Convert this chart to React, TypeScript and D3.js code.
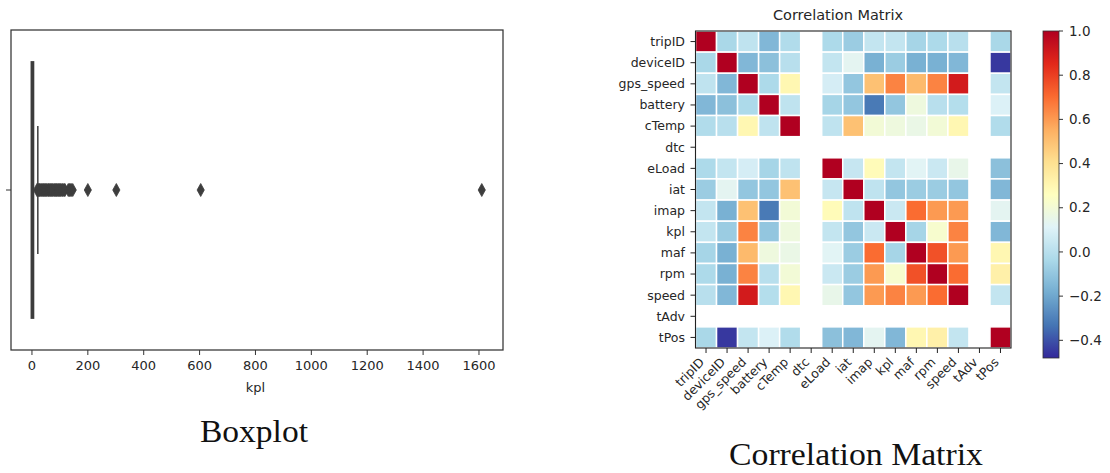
import React from 'react';
import * as d3 from 'd3';

// boxplot of kpl
const kplTicks = [0, 200, 400, 600, 800, 1000, 1200, 1400, 1600];
const kplBox = { q1: 0, median: 3, q3: 7, low: 0, high: 21 };
const kplFliers = [18, 22, 25, 27, 31, 34, 38, 41, 44, 47, 50, 53, 57, 60, 62, 66, 69, 72, 75, 79, 82, 85, 88, 91, 95, 98, 101, 104, 108, 111, 115, 118, 130, 134, 137, 141, 146, 200, 302, 604, 1610];

// correlation matrix
const vars = ['tripID', 'deviceID', 'gps_speed', 'battery', 'cTemp', 'dtc', 'eLoad', 'iat', 'imap', 'kpl', 'maf', 'rpm', 'speed', 'tAdv', 'tPos'];
const N = null;
const corrValues: (number | null)[][] = [
  [1, -0.04, 0.02, -0.15, -0.02, N, -0.03, -0.08, 0.03, 0.03, -0.05, -0.03, 0.0, N, -0.04],
  [-0.04, 1, -0.15, -0.12, 0.0, N, 0.03, 0.13, -0.17, -0.08, -0.17, -0.17, -0.15, N, -0.45],
  [0.02, -0.15, 1, -0.03, 0.3, N, 0.08, -0.1, 0.5, 0.65, 0.52, 0.65, 0.9, N, 0.03],
  [-0.15, -0.12, -0.03, 1, 0.02, N, -0.05, -0.1, -0.32, -0.1, 0.18, 0.0, -0.01, N, 0.1],
  [-0.02, 0.0, 0.3, 0.02, 1, N, 0.02, 0.5, 0.2, 0.18, 0.16, 0.2, 0.3, N, -0.02],
  [N, N, N, N, N, N, N, N, N, N, N, N, N, N, N],
  [-0.03, 0.03, 0.08, -0.05, 0.02, N, 1, 0.04, 0.28, 0.03, 0.12, 0.05, 0.15, N, -0.12],
  [-0.08, 0.13, -0.1, -0.1, 0.5, N, 0.04, 1, 0.02, -0.1, -0.08, -0.08, -0.1, N, -0.15],
  [0.03, -0.17, 0.5, -0.32, 0.2, N, 0.28, 0.02, 1, 0.05, 0.7, 0.6, 0.6, N, 0.13],
  [0.03, -0.08, 0.65, -0.1, 0.18, N, 0.03, -0.1, 0.05, 1, -0.05, 0.22, 0.65, N, -0.15],
  [-0.05, -0.17, 0.52, 0.18, 0.16, N, 0.12, -0.08, 0.7, -0.05, 1, 0.76, 0.6, N, 0.3],
  [-0.03, -0.17, 0.65, 0.0, 0.2, N, 0.05, -0.08, 0.6, 0.22, 0.76, 1, 0.7, N, 0.33],
  [0.0, -0.15, 0.9, -0.01, 0.3, N, 0.15, -0.1, 0.6, 0.65, 0.6, 0.7, 1, N, 0.03],
  [N, N, N, N, N, N, N, N, N, N, N, N, N, N, N],
  [-0.04, -0.45, 0.03, 0.1, -0.02, N, -0.12, -0.15, 0.13, -0.15, 0.3, 0.33, 0.03, N, 1],
];
const cbarTicks = [-0.4, -0.2, 0.0, 0.2, 0.4, 0.6, 0.8, 1.0];
const rdylbu = ['#33289a', '#4575b4', '#74add1', '#abd9e9', '#e0f3f8', '#ffffbf', '#fee090', '#fdae61', '#fa6a30', '#e2281a', '#b00020'];

const vmin = -0.48, vmax = 1.0;
const sans = 'DejaVu Sans';
const txt = '#262626';

export default function App() {
  // boxplot scales
  const bx = d3.scaleLinear().domain([-75, 1686]).range([11, 503]);
  const by = d3.scaleLinear().domain([-0.5, 0.5]).range([30, 350]);
  const fmt = d3.format('.1f');

  // heatmap scales
  const hx = d3.scaleBand<string>().domain(vars).range([695.5, 1011]);
  const hy = d3.scaleBand<string>().domain(vars).range([31, 348]);
  const color = d3.scaleLinear<string>()
    .domain(rdylbu.map((_, i) => vmin + (i / 10) * (vmax - vmin)))
    .range(rdylbu)
    .interpolate(d3.interpolateRgb);
  const cy = d3.scaleLinear().domain([vmin, vmax]).range([358, 31]);
  const stops = d3.range(0, 1.0001, 0.02);

  const diamond = (x: number, y: number) => `M${x},${y - 6.5}L${x + 3.6},${y}L${x},${y + 6.5}L${x - 3.6},${y}Z`;

  return (
    <svg width={1110} height={473} style={{ position: 'absolute', left: 0, top: 0, background: '#fff' }}>
      <defs>
        <linearGradient id="cbar" x1="0" y1="1" x2="0" y2="0">
          {stops.map((t) => (
            <stop key={t} offset={t} stopColor={color(vmin + t * (vmax - vmin))} />
          ))}
        </linearGradient>
      </defs>

      {/* ---------- boxplot ---------- */}
      <g>
        <rect x={bx(kplBox.q1) - 0.5} y={by(-0.4)} width={bx(kplBox.q3) - bx(kplBox.q1)} height={by(0.4) - by(-0.4)}
          fill="#3d3d3d" stroke="#3d3d3d" strokeWidth={1.8} />
        <line x1={bx(kplBox.q3)} x2={bx(kplBox.high)} y1={by(0)} y2={by(0)} stroke="#3d3d3d" strokeWidth={1.5} />
        <line x1={bx(kplBox.high)} x2={bx(kplBox.high)} y1={by(-0.2)} y2={by(0.2)} stroke="#3d3d3d" strokeWidth={1.5} />
        <line x1={bx(kplBox.low)} x2={bx(kplBox.low)} y1={by(-0.2)} y2={by(0.2)} stroke="#3d3d3d" strokeWidth={1.5} />
        <line x1={bx(kplBox.median)} x2={bx(kplBox.median)} y1={by(-0.4)} y2={by(0.4)} stroke="#3d3d3d" strokeWidth={1.5} />
        {kplFliers.map((v, i) => (
          <path key={i} d={diamond(bx(v), by(0))} fill="#3d3d3d" stroke="#3d3d3d" strokeWidth={0.8} />
        ))}
        <rect x={11} y={30} width={492} height={320} fill="none" stroke="#333" strokeWidth={1.25} />
        <line x1={6} x2={11} y1={by(0)} y2={by(0)} stroke="#333" strokeWidth={1} />
        {kplTicks.map((t) => (
          <g key={t} transform={`translate(${bx(t)},350)`}>
            <line y1={0} y2={5} stroke="#333" strokeWidth={1} />
            <text y={20} textAnchor="middle" fontFamily={sans} fontSize={13} fill={txt}>{t}</text>
          </g>
        ))}
        <text x={bx(800)} y={392} textAnchor="middle" fontFamily={sans} fontSize={13} fill={txt}>kpl</text>
      </g>

      {/* ---------- correlation heatmap ---------- */}
      <g>
        <text x={838} y={20} textAnchor="middle" fontFamily={sans} fontSize={14.5} fill={txt}>Correlation Matrix</text>
        {corrValues.map((row, i) =>
          row.map((v, j) =>
            v === null ? null : (
              <rect key={`${i}-${j}`} x={hx(vars[j])!} y={hy(vars[i])!} width={hx.bandwidth()} height={hy.bandwidth()}
                fill={color(v)} stroke="#fff" strokeWidth={1.5} />
            )
          )
        )}
        <rect x={695.5} y={31} width={1011 - 695.5} height={348 - 31} fill="none" stroke="#222" strokeWidth={1.1} />
        {vars.map((v) => {
          const cyv = hy(v)! + hy.bandwidth() / 2;
          const cxv = hx(v)! + hx.bandwidth() / 2;
          return (
            <g key={v}>
              <line x1={690.5} x2={695.5} y1={cyv} y2={cyv} stroke="#222" strokeWidth={1} />
              <text x={685} y={cyv} dy="0.35em" textAnchor="end" fontFamily={sans} fontSize={12.5} fill={txt}>{v}</text>
              <line x1={cxv} x2={cxv} y1={348} y2={353} stroke="#222" strokeWidth={1} />
              <text transform={`translate(${cxv - 1},${363}) rotate(-45)`} textAnchor="end" fontFamily={sans} fontSize={12.5} fill={txt}>{v}</text>
            </g>
          );
        })}

        {/* colorbar */}
        <rect x={1043} y={cy(vmax)} width={16} height={cy(vmin) - cy(vmax)} fill="url(#cbar)" stroke="#333" strokeWidth={0.8} />
        {cbarTicks.map((t) => (
          <g key={t} transform={`translate(1059,${cy(t)})`}>
            <line x2={4} stroke="#333" strokeWidth={1} />
            <text x={10} dy="0.35em" fontFamily={sans} fontSize={13.5} fill={txt}>{fmt(t)}</text>
          </g>
        ))}
      </g>

      {/* captions */}
      <text x={254} y={442} textAnchor="middle" fontFamily="Liberation Serif" fontSize={31} fill="#111"
        textLength={108} lengthAdjust="spacingAndGlyphs">Boxplot</text>
      <text x={856} y={465} textAnchor="middle" fontFamily="Liberation Serif" fontSize={31} fill="#111"
        textLength={254} lengthAdjust="spacingAndGlyphs">Correlation Matrix</text>
    </svg>
  );
}
